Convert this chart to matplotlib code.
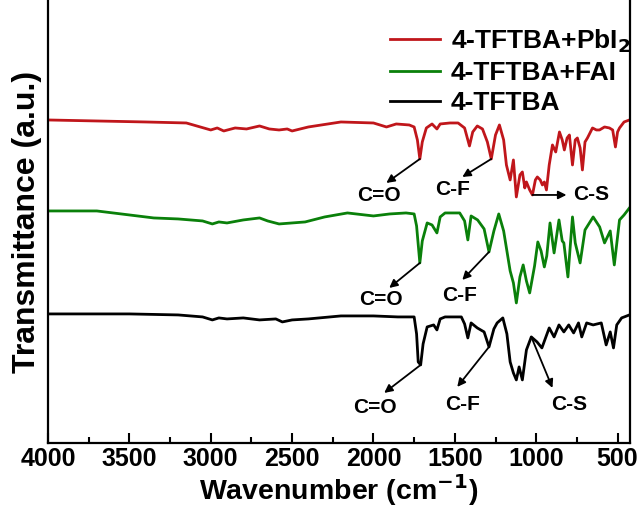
import matplotlib.pyplot as plt
import numpy as np

plt.rcParams['font.family'] = ['Liberation Sans', 'DejaVu Sans']
plt.rcParams['font.weight'] = 'bold'
plt.rcParams['mathtext.default'] = 'bf'

# FTIR spectra, relative transmittance (a.u.) vs wavenumber (cm-1)
wn_pbi2 = [4000, 3700, 3400, 3150, 3000, 2960, 2920, 2850, 2780, 2700, 2640, 2580,
           2530, 2500, 2400, 2200, 2000, 1920, 1860, 1780, 1750, 1730, 1715, 1700,
           1675, 1640, 1610, 1590, 1530, 1480, 1440, 1410, 1390, 1362, 1330, 1300,
           1276, 1250, 1226, 1200, 1183, 1160, 1140, 1122, 1100, 1085, 1070, 1060,
           1040, 1023, 1005, 993, 975, 962, 950, 937, 920, 900, 880, 857, 840, 827,
           810, 796, 777, 760, 747, 730, 716, 700, 685, 654, 630, 611, 580, 550,
           530, 513, 500, 488, 460, 427]
t_pbi2 = [0.00, -0.01, -0.02, -0.03, -0.10, -0.08, -0.11, -0.08, -0.09, -0.06, -0.09, -0.10,
          -0.09, -0.11, -0.07, -0.02, -0.03, -0.07, -0.04, -0.05, -0.07, -0.20, -0.39, -0.22,
          -0.08, -0.04, -0.09, -0.04, -0.03, -0.03, -0.08, -0.26, -0.12, -0.06, -0.09, -0.22,
          -0.39, -0.15, -0.05, -0.20, -0.45, -0.60, -0.40, -0.77, -0.55, -0.52, -0.68, -0.62,
          -0.70, -0.75, -0.60, -0.57, -0.60, -0.65, -0.62, -0.70, -0.45, -0.25, -0.32, -0.12,
          -0.20, -0.30, -0.18, -0.15, -0.45, -0.20, -0.18, -0.28, -0.50, -0.22, -0.18, -0.08,
          -0.10, -0.10, -0.07, -0.08, -0.10, -0.27, -0.12, -0.08, -0.02, 0.00]

wn_fai = [4000, 3700, 3500, 3350, 3200, 3050, 2990, 2950, 2900, 2800, 2700, 2650,
          2580, 2500, 2420, 2300, 2160, 2000, 1900, 1800, 1750, 1735, 1715, 1700,
          1670, 1640, 1610, 1590, 1560, 1470, 1440, 1420, 1400, 1360, 1320, 1290,
          1260, 1230, 1200, 1160, 1140, 1122, 1100, 1080, 1060, 1040, 1010, 990,
          970, 950, 935, 915, 890, 860, 840, 830, 805, 777, 760, 730, 700, 650,
          610, 580, 545, 520, 488, 460, 427]
t_fai = [0.00, 0.00, -0.04, -0.07, -0.08, -0.10, -0.13, -0.11, -0.12, -0.09, -0.07, -0.10,
         -0.13, -0.12, -0.11, -0.06, -0.02, -0.05, -0.03, -0.02, -0.03, -0.15, -0.52, -0.30,
         -0.12, -0.14, -0.22, -0.06, -0.02, -0.02, -0.10, -0.29, -0.05, -0.09, -0.18, -0.41,
         -0.20, -0.03, -0.20, -0.60, -0.72, -0.92, -0.66, -0.54, -0.70, -0.82, -0.55, -0.31,
         -0.40, -0.56, -0.45, -0.12, -0.42, -0.09, -0.30, -0.32, -0.66, -0.06, -0.32, -0.52,
         -0.19, -0.06, -0.16, -0.32, -0.20, -0.54, -0.09, -0.04, 0.03]

wn_tftba = [4000, 3500, 3200, 3050, 2990, 2950, 2900, 2800, 2700, 2600, 2560, 2500,
            2400, 2200, 2000, 1850, 1750, 1735, 1725, 1710, 1695, 1670, 1630, 1610,
            1590, 1560, 1460, 1440, 1420, 1400, 1362, 1320, 1290, 1260, 1240, 1205,
            1180, 1160, 1140, 1122, 1105, 1085, 1060, 1030, 995, 965, 920, 890,
            860, 830, 800, 770, 740, 720, 690, 650, 600, 570, 545, 525, 505, 475, 427]
t_tftba = [0.00, 0.00, -0.01, -0.03, -0.06, -0.04, -0.05, -0.04, -0.06, -0.05, -0.08, -0.06,
           -0.05, -0.02, -0.02, -0.03, -0.03, -0.20, -0.48, -0.51, -0.30, -0.13, -0.11, -0.16,
           -0.05, -0.03, -0.03, -0.10, -0.24, -0.09, -0.14, -0.18, -0.33, -0.15, -0.09, -0.04,
           -0.20, -0.48, -0.59, -0.66, -0.53, -0.66, -0.36, -0.23, -0.28, -0.34, -0.14, -0.23,
           -0.11, -0.18, -0.11, -0.19, -0.09, -0.23, -0.09, -0.11, -0.09, -0.31, -0.18, -0.34,
           -0.11, -0.04, -0.01]

labels = ['4-TFTBA+PbI$_2$', '4-TFTBA+FAI', '4-TFTBA']
colors = ['#C0161B', '#0A800A', 'black']
offsets = [3.23, 2.32, 1.29]
spectra = [(wn_pbi2, t_pbi2), (wn_fai, t_fai), (wn_tftba, t_tftba)]

fig = plt.figure(figsize=(6.4, 5.15), dpi=100)
ax = fig.add_axes([0.075, 0.14, 0.909, 0.86])

for (wn, t), off, c, lab in zip(spectra, offsets, colors, labels):
    ax.plot(wn, np.array(t) + off, color=c, lw=2.0, label=lab)


def peak(i, w):
    wn, t = spectra[i]
    return w, t[wn.index(w)] + offsets[i]


# (spectrum, peak wavenumber, arrow head, label text, label position, ha)
marks = [
    (0, 1715, (1921, 2.60), 'C=O', (1964, 2.47), 'center'),
    (0, 1276, (1454, 2.66), 'C-F', (1515, 2.53), 'center'),
    (0, 1023, (814, 2.48), 'C-S', (770, 2.48), 'left'),
    (1, 1715, (1903, 1.55), 'C=O', (1952, 1.43), 'center'),
    (1, 1290, (1454, 1.63), 'C-F', (1472, 1.47), 'center'),
    (2, 1710, (1934, 0.50), 'C=O', (1989, 0.35), 'center'),
    (2, 1290, (1485, 0.56), 'C-F', (1454, 0.38), 'center'),
    (2, 1030, (900, 0.55), 'C-S', (796, 0.38), 'center'),
]
for i, w, head, txt, pos, ha in marks:
    ax.annotate('', xy=head, xytext=peak(i, w),
                arrowprops=dict(arrowstyle='-|>', color='black', lw=1.3,
                                mutation_scale=12, shrinkA=0, shrinkB=0))
    ax.text(pos[0], pos[1], txt, ha=ha, va='center', fontsize=15, fontweight='bold')

ax.set_xlim(4000, 425)
ax.set_ylim(0, 4.43)
ax.set_xticks([4000, 3500, 3000, 2500, 2000, 1500, 1000, 500])
ax.set_xticks(np.arange(3750, 425, -500), minor=True)
ax.set_yticks([])
ax.tick_params(axis='x', which='major', direction='in', length=7, width=1.5,
               labelsize=18, pad=3)
ax.tick_params(axis='x', which='minor', direction='in', length=4, width=1.5)
for lbl in ax.get_xticklabels():
    lbl.set_fontweight('bold')
ax.spines['top'].set_visible(False)
for s in ['left', 'right', 'bottom']:
    ax.spines[s].set_linewidth(1.6)

ax.set_xlabel('Wavenumber (cm$^{-1}$)', fontsize=20.5, fontweight='bold', labelpad=1)
ax.set_ylabel('Transmittance (a.u.)', fontsize=23, fontweight='bold', labelpad=4)

ax.legend(loc='upper left', bbox_to_anchor=(0.588, 0.938), frameon=False,
          handlelength=1.9, labelspacing=0.23, handletextpad=0.4,
          borderpad=0, borderaxespad=0,
          prop=dict(weight='bold', size=19))

fig.savefig('out.png', dpi=100)
